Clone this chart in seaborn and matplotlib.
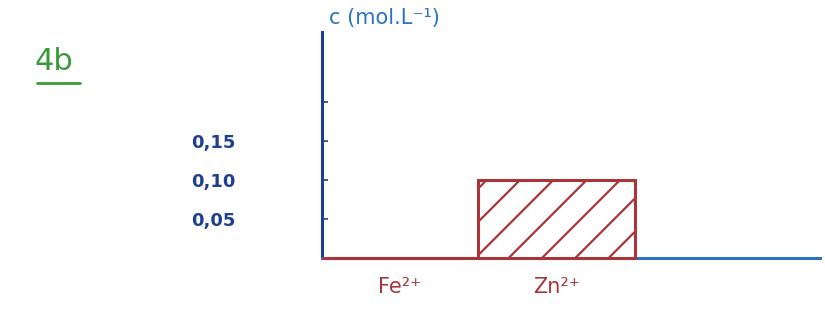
import matplotlib
matplotlib.use("Agg")
import matplotlib.pyplot as plt
from matplotlib.lines import Line2D
import seaborn as sns

# values
ions = ["Fe²⁺", "Zn²⁺"]
concentration = [0.0, 0.10]
tick_values = [0.05, 0.10, 0.15, 0.20]
tick_labels = ["0,05", "0,10", "0,15", ""]

RED = "#a8353a"
BLUE_Y = "#1d3f8f"
BLUE_X = "#2a72c4"
GREEN = "#3a9a3a"

sns.set_theme(style="white")
plt.rcParams["font.family"] = ["DejaVu Sans"]
plt.rcParams["hatch.color"] = RED
plt.rcParams["hatch.linewidth"] = 1.6

fig = plt.figure(figsize=(8.25, 3.26), dpi=100)
ax = fig.add_axes([0.39, 0.209, 0.604, 0.693])

sns.barplot(
    x=ions,
    y=concentration,
    width=1.0,
    color="white",
    edgecolor=RED,
    linewidth=2.2,
    hatch="/",
    zorder=3,
    ax=ax,
)
for p in ax.patches:
    p.set_clip_on(False)
    p.set_facecolor("white")
    p.set_edgecolor(RED)

ax.set_xlim(-0.5, 2.68)
ax.set_ylim(0, 0.29)
ax.set_yticks(tick_values)
ax.set_yticklabels(tick_labels)
ax.set_xlabel("")
ax.set_ylabel("")

sns.despine(ax=ax, top=True, right=True)
ax.spines["left"].set_color(BLUE_Y)
ax.spines["left"].set_linewidth(2.2)
ax.spines["bottom"].set_color(BLUE_X)
ax.spines["bottom"].set_linewidth(2.2)

ax.tick_params(axis="y", direction="in", length=4, width=1.2, color=BLUE_Y,
               pad=62, labelsize=13, labelcolor=BLUE_Y, left=True)
for lbl in ax.get_yticklabels():
    lbl.set_fontweight("bold")
ax.tick_params(axis="x", length=0, pad=14, labelsize=15, labelcolor=RED)

ax.annotate("c (mol.L⁻¹)", xy=(0.015, 1.06), xycoords="axes fraction",
            ha="left", va="center", fontsize=15, color=BLUE_X)

fig.text(0.042, 0.81, "4b", color=GREEN, fontsize=22, ha="left", va="center")
fig.add_artist(Line2D([0.045, 0.097], [0.745, 0.745], transform=fig.transFigure,
                      color=GREEN, lw=2))

fig.savefig("out.png", dpi=100)
plt.close(fig)
